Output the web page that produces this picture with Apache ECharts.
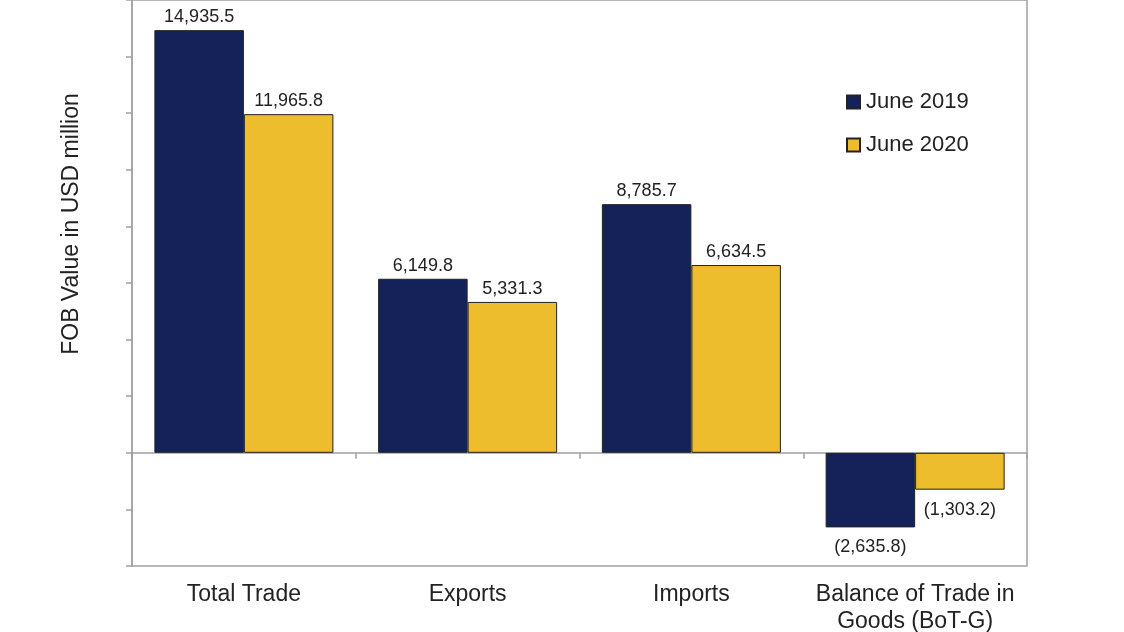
<!DOCTYPE html>
<html>
<head>
<meta charset="utf-8">
<script src="https://cdn.jsdelivr.net/npm/echarts@6/dist/echarts.min.js"></script>
<style>html,body{margin:0;padding:0;background:#fff}#c{width:1124px;height:632px}</style>
</head>
<body>
<div id="c"></div>
<script>
const categories = ['Total Trade', 'Exports', 'Imports', 'Balance of Trade in\nGoods (BoT-G)'];
const seriesNames = ['June 2019', 'June 2020'];
const june2019 = [14935.5, 6149.8, 8785.7, -2635.8];
const june2020 = [11965.8, 5331.3, 6634.5, -1303.2];
const yAxisTitle = 'FOB Value in USD million';

function fmt(v) {
  const s = Math.abs(v).toLocaleString('en-US', {minimumFractionDigits: 1, maximumFractionDigits: 1});
  return v < 0 ? '(' + s + ')' : s;
}
const FONT = '"Liberation Sans", Arial, sans-serif';
const chart = echarts.init(document.getElementById('c'));
function mk(name, data, color) {
  return {
    name: name, type: 'bar', xAxisIndex: 0, data: data.map(v => ({
      value: v,
      label: {position: v < 0 ? 'bottom' : 'top', distance: v < 0 ? 11 : 4}
    })),
    barGap: '0%', barCategoryGap: '20%',
    itemStyle: {color: color, borderColor: '#222', borderWidth: 1},
    label: {show: true, formatter: p => fmt(p.value), fontFamily: FONT, fontSize: 18, color: '#222'},
    emphasis: {disabled: true}
  };
}
chart.setOption({
  animation: false,
  textStyle: {fontFamily: FONT},
  grid: {left: 132, right: 97, top: 0, bottom: 66, containLabel: false, outerBoundsMode: 'none',
         show: true, borderColor: '#a0a0a0', borderWidth: 1.5},
  legend: {
    orient: 'vertical', left: 846, top: 91, padding: 0, itemGap: 21, itemWidth: 13, itemHeight: 13,
    icon: 'rect', data: seriesNames,
    textStyle: {fontFamily: FONT, fontSize: 22, color: '#222', padding: [0, 0, 0, 1]}
  },
  xAxis: [
    {type: 'category', data: categories, position: 'bottom',
     axisLine: {onZero: true, lineStyle: {color: '#a0a0a0', width: 1.5}},
     axisTick: {show: true, length: 6, lineStyle: {color: '#a0a0a0', width: 1.5}},
     axisLabel: {show: false}},
    {type: 'category', data: categories, position: 'bottom',
     axisLine: {show: false}, axisTick: {show: false},
     axisLabel: {show: true, fontFamily: FONT, fontSize: 23, color: '#222', margin: 15, lineHeight: 27, interval: 0}}
  ],
  yAxis: {
    type: 'value', min: -4000, max: 16000, interval: 2000,
    axisLine: {show: true, lineStyle: {color: '#a0a0a0', width: 1.5}},
    axisTick: {show: true, length: 6, lineStyle: {color: '#a0a0a0', width: 1.5}},
    axisLabel: {show: false},
    splitLine: {show: false}
  },
  graphic: [{
    type: 'text', x: 72, y: 224, rotation: Math.PI / 2,
    style: {text: yAxisTitle, font: '23px ' + FONT, fill: '#222', textAlign: 'center', textVerticalAlign: 'middle'}
  }],
  series: [mk(seriesNames[0], june2019, '#15225a'), mk(seriesNames[1], june2020, '#eebd2e')]
});
</script>
</body>
</html>
